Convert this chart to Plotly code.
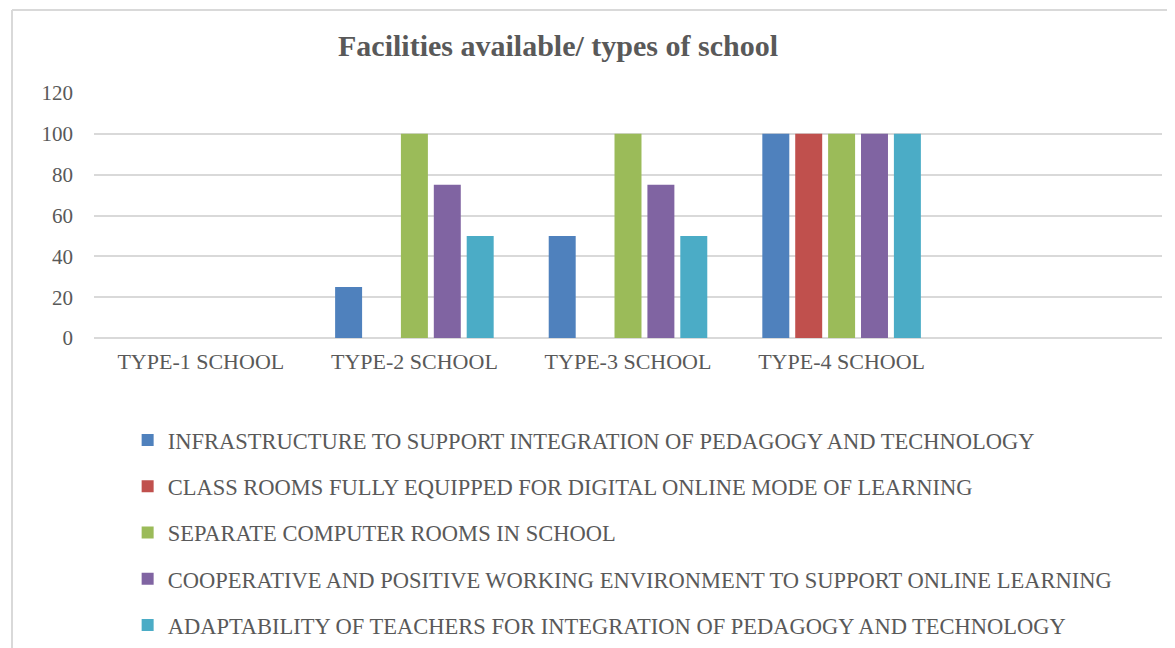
import plotly.graph_objects as go

categories = ["TYPE-1 SCHOOL", "TYPE-2 SCHOOL", "TYPE-3 SCHOOL", "TYPE-4 SCHOOL"]
series_names = [
    "INFRASTRUCTURE TO SUPPORT INTEGRATION OF PEDAGOGY AND TECHNOLOGY",
    "CLASS ROOMS FULLY EQUIPPED FOR DIGITAL ONLINE MODE OF LEARNING",
    "SEPARATE COMPUTER ROOMS IN SCHOOL",
    "COOPERATIVE AND POSITIVE WORKING ENVIRONMENT TO SUPPORT ONLINE LEARNING",
    "ADAPTABILITY OF TEACHERS FOR INTEGRATION OF PEDAGOGY AND TECHNOLOGY",
]
infrastructure = [0, 25, 50, 100]
classrooms = [0, 0, 0, 100]
computer_rooms = [0, 100, 100, 100]
cooperative = [0, 75, 75, 100]
adaptability = [0, 50, 50, 100]
series_values = [infrastructure, classrooms, computer_rooms, cooperative, adaptability]
colors = ["#4F81BD", "#C0504D", "#9BBB59", "#8064A2", "#4BACC6"]
y_ticks = [0, 20, 40, 60, 80, 100, 120]

FONT = "Liberation Serif"
GREY = "#595959"

fig = go.Figure()
for i, (name, vals, col) in enumerate(zip(series_names, series_values, colors)):
    fig.add_trace(go.Bar(
        x=categories, y=vals, name=name,
        marker=dict(color=col, line=dict(width=0)),
        legendgroup=f"g{i}",
    ))

W, H = 1167, 640
fig.update_layout(
    width=W, height=H,
    paper_bgcolor="white", plot_bgcolor="white",
    margin=dict(l=86, r=13, t=85, b=310, autoexpand=False),
    barmode="group", bargap=0.23, bargroupgap=0.18,
    font=dict(family=FONT, color=GREY, size=21),
    title=dict(text="<b>Facilities available/ types of school</b>",
               x=550/W, xanchor="center", y=1-37/H, yanchor="middle",
               font=dict(family=FONT, size=30, color=GREY)),
    xaxis=dict(type="category", range=[-0.5, 4.5], showgrid=False,
               showline=False, ticks="", ticklabelstandoff=8,
               tickfont=dict(size=22, color=GREY)),
    yaxis=dict(range=[0, 120], tickvals=y_ticks, showgrid=True,
               gridcolor="#D9D9D9", gridwidth=1.5, zeroline=True,
               zerolinecolor="#D9D9D9", zerolinewidth=1.5,
               ticks="", ticklabelstandoff=20, tickfont=dict(size=21, color=GREY)),
    legend=dict(orientation="v", x=0.0315, xanchor="left", y=-0.33, yanchor="top",
                font=dict(size=22.5, color=GREY), tracegroupgap=14,
                bgcolor="rgba(0,0,0,0)"),
    showlegend=True,
)

# outer chart frame (top and left edges)
fig.add_shape(type="line", xref="paper", yref="paper",
              x0=-82/1068, x1=1.1, y0=328/245, y1=328/245,
              line=dict(color="#D9D9D9", width=2))
fig.add_shape(type="line", xref="paper", yref="paper",
              x0=-82/1068, x1=-82/1068, y0=328/245, y1=-1.4,
              line=dict(color="#D9D9D9", width=2))

fig.write_html("out.html")
